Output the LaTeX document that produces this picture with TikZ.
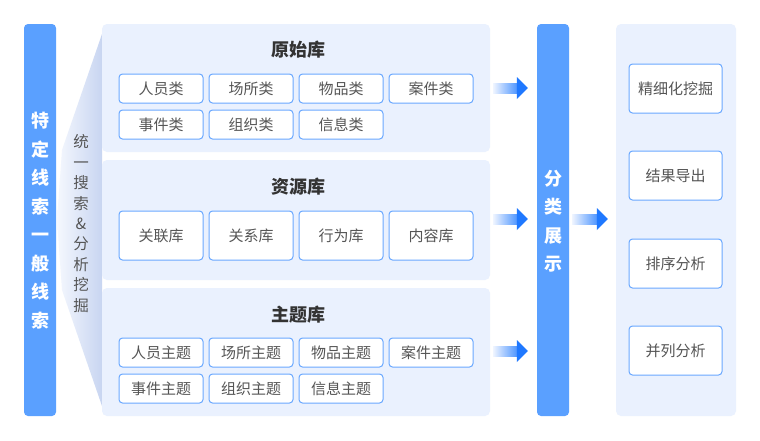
\documentclass[tikz,border=0pt]{standalone}
\usepackage{fontspec}
\setmainfont{Noto Sans CJK SC}
\usetikzlibrary{calc}
\definecolor{barblue}{HTML}{5AA0FF}
\definecolor{panelbg}{HTML}{EAF1FE}
\definecolor{boxline}{HTML}{6AA8FF}
\definecolor{txtgray}{HTML}{555555}
\definecolor{titlegray}{HTML}{333333}
\definecolor{headblue}{HTML}{1F78FF}
\definecolor{shaftblue}{HTML}{4A93FF}
\definecolor{shaftlight}{HTML}{EEF4FF}
\definecolor{trapL}{HTML}{F5F8FE}
\definecolor{trapR}{HTML}{C8D5F1}
\newcommand\gradarrow[2]{%
  \shade[left color=shaftlight, right color=shaftblue]
    ($(#1)+(0,-5)$) rectangle ($(#2)+(-10,5)$);
  \fill[headblue] ($(#2)+(-11,-11)$) -- (#2) -- ($(#2)+(-11,11)$) -- cycle;
}
\begin{document}
\begin{tikzpicture}[x=1pt,y=-1pt,
  bar/.style={fill=barblue, rounded corners=4pt, minimum width=32pt, minimum height=392pt, inner sep=0pt},
  bartext/.style={text=white, font=\fontsize{18}{28.5}\selectfont\bfseries, align=center},
  panel/.style={fill=panelbg, rounded corners=5pt, inner sep=0pt},
  ptitle/.style={text=titlegray, font=\fontsize{18}{20}\selectfont\bfseries},
  item/.style={draw=boxline, line width=1pt, fill=white, rounded corners=3.5pt,
    minimum width=84pt, minimum height=29pt, inner sep=0pt,
    font=\fontsize{15}{17}\selectfont, text=txtgray},
  bigitem/.style={item, minimum height=49pt},
  ritem/.style={item, minimum width=93pt, minimum height=49pt}]
\useasboundingbox[fill=white] (0,0) rectangle (760,440);

% left bar
\node[bar] (lb) at (40,220) {};
\node[bartext] (lbt) at (40,220.5) {特\\定\\线\\索\\一\\般\\线\\索};

% funnel
\shade[left color=trapL, right color=trapR]
  (102,34) -- (62,150) -- (57,220) -- (62,290) -- (102,406) -- cycle;
\node[text=txtgray, font=\fontsize{15.5}{20.4}\selectfont, align=center] (ft) at (81,223.5)
  {统\\一\\搜\\索\\\&\\分\\析\\挖\\掘};

% panels
\node[panel, minimum width=388pt, minimum height=128pt] (p1) at (296,88) {};
\node[panel, minimum width=388pt, minimum height=120pt] (p2) at (296,220) {};
\node[panel, minimum width=388pt, minimum height=128pt] (p3) at (296,352) {};

\node[ptitle] (t1) at (298,50) {原始库};
\node[ptitle] (t2) at (298,187) {资源库};
\node[ptitle] (t3) at (298,315) {主题库};

% panel 1 items
\node[item] (a1) at (161,88.5) {人员类};
\node[item] (a2) at (251,88.5) {场所类};
\node[item] (a3) at (341,88.5) {物品类};
\node[item] (a4) at (431,88.5) {案件类};
\node[item] (a5) at (161,124.5) {事件类};
\node[item] (a6) at (251,124.5) {组织类};
\node[item] (a7) at (341,124.5) {信息类};

% panel 2 items
\node[bigitem] (b1) at (161,235.5) {关联库};
\node[bigitem] (b2) at (251,235.5) {关系库};
\node[bigitem] (b3) at (341,235.5) {行为库};
\node[bigitem] (b4) at (431,235.5) {内容库};

% panel 3 items
\node[item] (c1) at (161,352.5) {人员主题};
\node[item] (c2) at (251,352.5) {场所主题};
\node[item] (c3) at (341,352.5) {物品主题};
\node[item] (c4) at (431,352.5) {案件主题};
\node[item] (c5) at (161,388.5) {事件主题};
\node[item] (c6) at (251,388.5) {组织主题};
\node[item] (c7) at (341,388.5) {信息主题};

% middle bar
\node[bar] (mb) at (553,220) {};
\node[bartext] (mbt) at (553,221) {分\\类\\展\\示};

% right panel
\node[panel, minimum width=120pt, minimum height=392pt] (rp) at (676,220) {};
\node[ritem] (r1) at (675.5,88.5) {精细化挖掘};
\node[ritem] (r2) at (675.5,175.5) {结果导出};
\node[ritem] (r3) at (675.5,263.5) {排序分析};
\node[ritem] (r4) at (675.5,350.5) {并列分析};

% arrows
\coordinate (s1) at ($(p1.east)+(3,0)$);
\coordinate (e1) at ($(mb.west |- p1.east)+(-9,0)$);
\coordinate (s2) at ($(p2.east)+(3,-1)$);
\coordinate (e2) at ($(mb.west |- p2.east)+(-9,-1)$);
\coordinate (s3) at ($(p3.east)+(3,-1)$);
\coordinate (e3) at ($(mb.west |- p3.east)+(-9,-1)$);
\coordinate (s4) at ($(mb.east)+(3,-1)$);
\coordinate (e4) at ($(rp.west)+(-8,-1)$);
\gradarrow{s1}{e1}
\gradarrow{s2}{e2}
\gradarrow{s3}{e3}
\gradarrow{s4}{e4}
\end{tikzpicture}
\end{document}
